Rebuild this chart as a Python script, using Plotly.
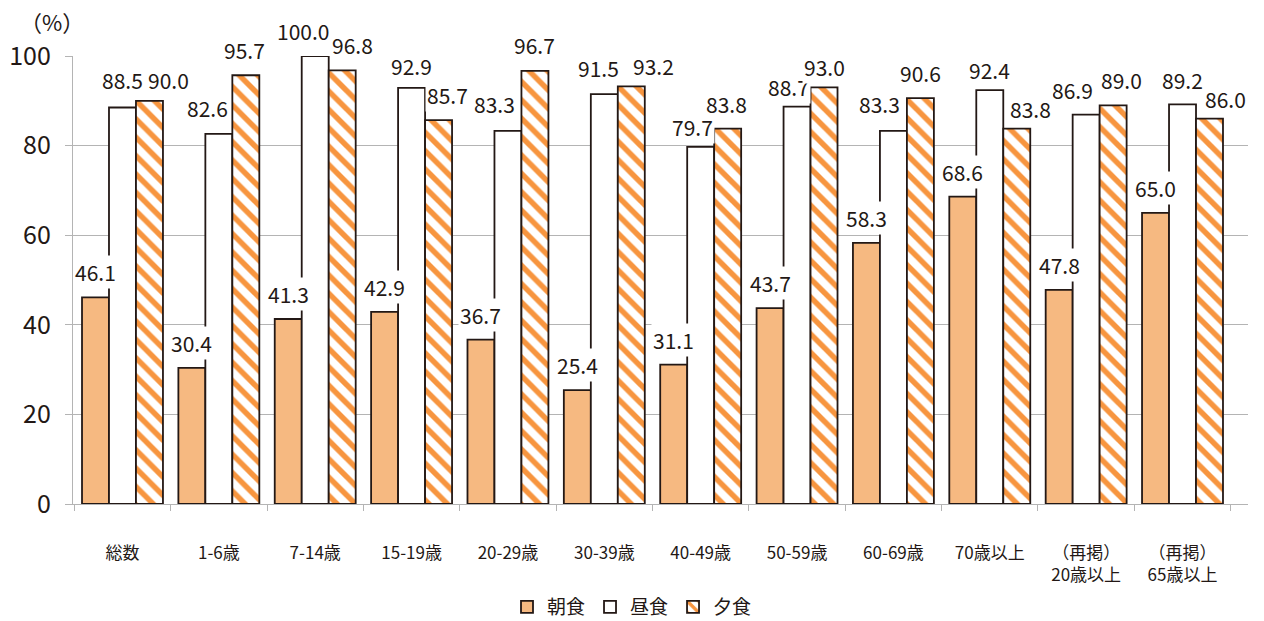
import plotly.graph_objects as go

categories = ["総数", "1-6歳", "7-14歳", "15-19歳", "20-29歳", "30-39歳", "40-49歳",
              "50-59歳", "60-69歳", "70歳以上", "（再掲）<br>20歳以上", "（再掲）<br>65歳以上"]
breakfast = [46.1, 30.4, 41.3, 42.9, 36.7, 25.4, 31.1, 43.7, 58.3, 68.6, 47.8, 65.0]
lunch = [88.5, 82.6, 100.0, 92.9, 83.3, 91.5, 79.7, 88.7, 83.3, 92.4, 86.9, 89.2]
dinner = [90.0, 95.7, 96.8, 85.7, 96.7, 93.2, 83.8, 93.0, 90.6, 83.8, 89.0, 86.0]
series_names = ["朝食", "昼食", "夕食"]

# label placement nudges (pixels): horizontal shift, height of label centre above bar top
nudge_dx = {
    0: [0] * 12,
    1: [0, -11, -12, 0, -13, -6, -8, -9, -14, 0, -14, 0],
    2: [19, -1, 10, 9, 0, 22, -1, 0, 0, 14, 8, 16],
}
nudge_dy = {
    0: [25] * 12,
    1: [28, 26, 25, 22, 27, 26, 20, 20, 27, 20, 25, 24],
    2: [21, 25, 25, 25, 26, 20, 25, 20, 25, 20, 25, 20],
}

FONT = "Noto Sans CJK JP"
TXT = "#231815"
EDGE = "#231815"
GRID = "#B4B4B4"
BARGAP = 0.16

fig = go.Figure()
fig.add_trace(go.Bar(x=categories, y=breakfast, name=series_names[0],
                     marker=dict(color="#F6B981", line=dict(color=EDGE, width=1.8))))
fig.add_trace(go.Bar(x=categories, y=lunch, name=series_names[1],
                     marker=dict(color="#FFFFFF", line=dict(color=EDGE, width=1.8))))
fig.add_trace(go.Bar(x=categories, y=dinner, name=series_names[2],
                     marker=dict(color="#FFFFFF", line=dict(color=EDGE, width=1.8),
                                 pattern=dict(shape="\\", fgcolor="#F7953F", bgcolor="#FFFFFF",
                                              size=13, solidity=0.42, fillmode="replace"))))

w = (1 - BARGAP) / 3
annotations = []
for k, vals in enumerate([breakfast, lunch, dinner]):
    for i, v in enumerate(vals):
        annotations.append(dict(
            x=i + (k - 1) * w, y=v, xref="x", yref="y",
            text=f"{v:.1f}", showarrow=False,
            xanchor="center", yanchor="middle",
            xshift=nudge_dx[k][i], yshift=nudge_dy[k][i],
            bgcolor="#FFFFFF", borderpad=1,
            font=dict(family=FONT, size=21, color=TXT)))

annotations.append(dict(x=(52 - 73) / 1175, y=(504.5 - 21) / 448.5, xref="paper", yref="paper",
                        text="（%）", showarrow=False, xanchor="center", yanchor="middle",
                        font=dict(family=FONT, size=22, color=TXT)))

fig.update_layout(
    width=1264, height=621,
    margin=dict(l=73, r=16, t=56, b=116.5, autoexpand=False),
    paper_bgcolor="#FFFFFF", plot_bgcolor="#FFFFFF",
    barmode="group", bargap=BARGAP, bargroupgap=0,
    font=dict(family=FONT, color=TXT),
    showlegend=True,
    legend=dict(orientation="h", x=0.5, xanchor="center", xref="container",
                y=1 - 607 / 621, yanchor="middle", yref="container",
                font=dict(family=FONT, size=19, color=TXT),
                traceorder="normal"),
    annotations=annotations,
    xaxis=dict(type="category", showline=True, linecolor=GRID, linewidth=1.3,
               ticks="outside", tickson="boundaries", ticklen=6, tickcolor=GRID,
               tickfont=dict(family=FONT, size=17, color=TXT), ticklabelstandoff=33,
               showgrid=False, automargin=False),
    yaxis=dict(range=[0, 100], dtick=20, showline=True, linecolor=GRID, linewidth=1.3,
               ticks="outside", ticklen=7, tickcolor=GRID, showgrid=True, gridcolor=GRID,
               gridwidth=1.3, zeroline=False, automargin=False,
               tickfont=dict(family=FONT, size=25, color=TXT), ticklabelstandoff=9),
)

fig.write_html("out.html")
